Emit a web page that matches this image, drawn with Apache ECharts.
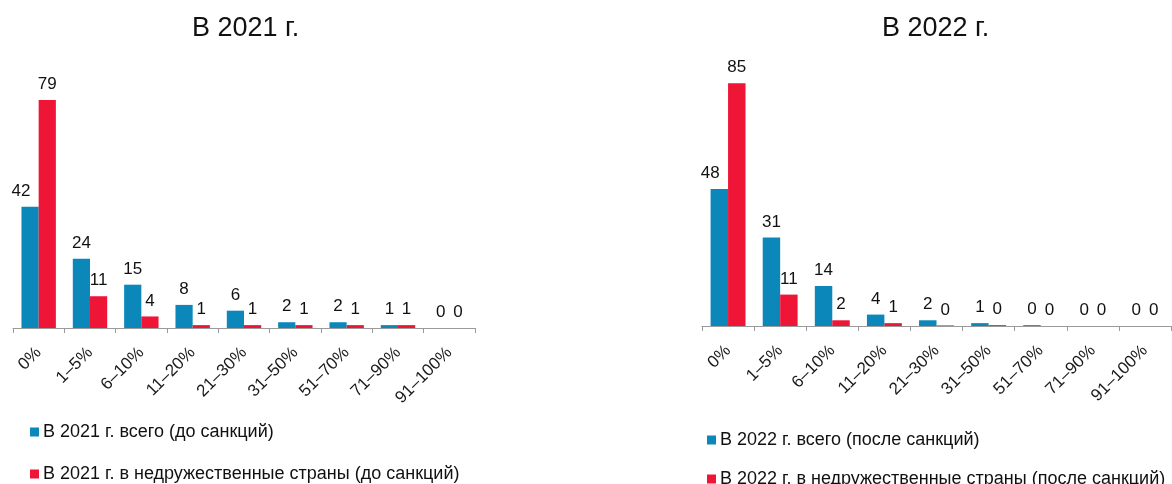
<!DOCTYPE html>
<html lang="ru">
<head>
    <meta charset="UTF-8">
    <title>Доли экспорта</title>
    <script src="https://cdn.jsdelivr.net/npm/echarts@6/dist/echarts.min.js"></script>
    <style>
        html, body { margin: 0; padding: 0; background: #fff; }
        #chart { width: 1172px; height: 484px; }
    </style>
</head>
<body>
    <div id="chart"></div>
    <script>
        // категории (доли)
        var categories = ['0%', '1–5%', '6–10%', '11–20%', '21–30%', '31–50%', '51–70%', '71–90%', '91–100%'];
        // 2021
        var total2021 = [42, 24, 15, 8, 6, 2, 2, 1, 0];
        var unfriendly2021 = [79, 11, 4, 1, 1, 1, 1, 1, 0];
        // 2022 (почти нулевые столбики оценены по картинке)
        var total2022 = [48, 31, 14, 4, 2, 1, 0.3, 0, 0];
        var unfriendly2022 = [85, 11, 2, 1, 0.2, 0.3, 0, 0, 0];

        var names = [
            'В 2021 г. всего (до санкций)',
            'В 2021 г. в недружественные страны (до санкций)',
            'В 2022 г. всего (после санкций)',
            'В 2022 г. в недружественные страны (после санкций)'
        ];
        var blue = '#0B87BA';
        var red = '#EE1537';
        var font = 'Arial, "Liberation Sans", sans-serif';

        function xAxisFun(idx) {
            return {
                type: 'category',
                gridIndex: idx,
                data: categories,
                axisLine: { lineStyle: { color: '#9a9a9a', width: 1 } },
                axisTick: { show: true, length: 5, lineStyle: { color: '#9a9a9a' } },
                axisLabel: { rotate: 45, margin: 22, fontSize: 17, color: '#1a1a1a', fontFamily: font }
            };
        }

        function seriesFun(name, arr, color, idx) {
            return {
                name: name,
                type: 'bar',
                xAxisIndex: idx,
                yAxisIndex: idx,
                barGap: 0,
                barCategoryGap: '33%',
                itemStyle: { color: color },
                label: {
                    show: true,
                    position: 'top',
                    distance: 7,
                    fontSize: 17,
                    color: '#111',
                    fontFamily: font,
                    formatter: function (p) { return Math.round(p.value); }
                },
                data: arr
            };
        }

        function legendFun(name, left, top) {
            return {
                data: [name],
                left: left, top: top,
                itemWidth: 9, itemHeight: 9, icon: 'rect',
                textStyle: { fontSize: 18, color: '#111', fontFamily: font, padding: [0, 0, 0, -1] }
            };
        }

        var s0 = seriesFun(names[0], total2021, blue, 0);
        var s2 = seriesFun(names[2], total2022, blue, 1);
        // первая подпись смещена влево, как в оригинале
        s0.data = total2021.map(function (v, i) {
            return i === 0 ? { value: v, label: { offset: [-9, 0] } } : v;
        });
        s2.data = total2022.map(function (v, i) {
            return i === 0 ? { value: v, label: { offset: [-9, 0] } } : v;
        });

        var myChart = echarts.init(document.getElementById('chart'));
        var option = {
            animation: false,
            title: [
                { text: 'В 2021 г.', left: 187, top: 10,
                  textStyle: { fontSize: 27, fontWeight: 'normal', color: '#111', fontFamily: font } },
                { text: 'В 2022 г.', left: 877, top: 10,
                  textStyle: { fontSize: 27, fontWeight: 'normal', color: '#111', fontFamily: font } }
            ],
            legend: [
                legendFun(names[0], 25, 418),
                legendFun(names[1], 25, 460),
                legendFun(names[2], 702, 426),
                legendFun(names[3], 702, 465)
            ],
            grid: [
                { left: 13, width: 462, top: 97, height: 231 },
                { left: 702, width: 469, top: 69, height: 257 }
            ],
            xAxis: [xAxisFun(0), xAxisFun(1)],
            yAxis: [
                { type: 'value', gridIndex: 0, min: 0, max: 80, show: false },
                { type: 'value', gridIndex: 1, min: 0, max: 90, show: false }
            ],
            series: [
                s0,
                seriesFun(names[1], unfriendly2021, red, 0),
                s2,
                seriesFun(names[3], unfriendly2022, red, 1)
            ]
        };
        myChart.setOption(option);
    </script>
</body>
</html>
